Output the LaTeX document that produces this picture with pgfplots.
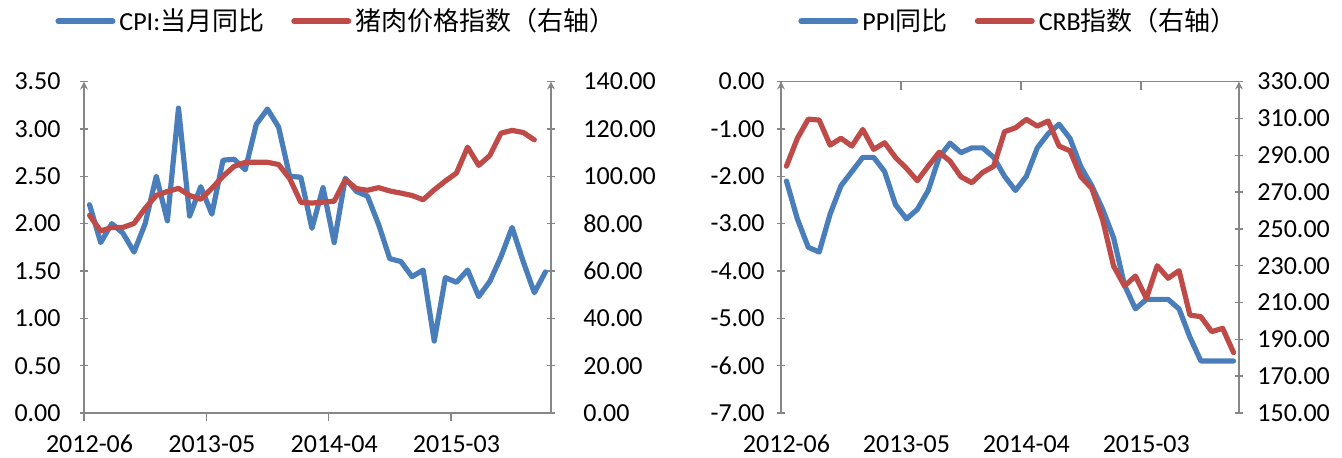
\documentclass[border=0pt]{standalone}
\usepackage{fontspec}
\setmainfont{Carlito}
\newfontfamily\cjk{Noto Sans CJK SC}
\usepackage{pgfplots}
\usepackage{pgfplotstable}
\pgfplotsset{compat=1.18}
\definecolor{sblue}{HTML}{4A7EBB}
\definecolor{sred}{HTML}{BE4B48}
\definecolor{axgray}{HTML}{868686}

\pgfplotstableread{
i v
0 2.20
1 1.80
2 2.00
3 1.90
4 1.70
5 2.00
6 2.50
7 2.03
8 3.22
9 2.08
10 2.39
11 2.10
12 2.67
13 2.68
14 2.57
15 3.05
16 3.21
17 3.02
18 2.50
19 2.49
20 1.95
21 2.38
22 1.80
23 2.48
24 2.34
25 2.29
26 1.99
27 1.63
28 1.60
29 1.44
30 1.51
31 0.76
32 1.43
33 1.38
34 1.51
35 1.23
36 1.39
37 1.65
38 1.96
39 1.60
40 1.27
41 1.49
}\cpitable

\pgfplotstableread{
i v
0 83.5
1 76.9
2 78.4
3 78.4
4 80.1
5 86.5
6 91.9
7 93.6
8 94.9
9 91.9
10 90.3
11 94.9
12 100.0
13 104.2
14 105.9
15 105.9
16 105.9
17 105.0
18 99.0
19 89.0
20 88.7
21 89.1
22 89.5
23 98.6
24 94.8
25 94.1
26 95.2
27 93.8
28 92.9
29 91.9
30 90.1
31 94.3
32 98.0
33 101.4
34 112.3
35 104.6
36 108.8
37 118.2
38 119.4
39 118.5
40 115.4
}\porktable

\pgfplotstableread{
i v
0 -2.1
1 -2.9
2 -3.5
3 -3.6
4 -2.8
5 -2.2
6 -1.9
7 -1.6
8 -1.6
9 -1.9
10 -2.6
11 -2.9
12 -2.7
13 -2.3
14 -1.6
15 -1.3
16 -1.5
17 -1.4
18 -1.4
19 -1.6
20 -2.0
21 -2.3
22 -2.0
23 -1.4
24 -1.1
25 -0.9
26 -1.2
27 -1.8
28 -2.2
29 -2.7
30 -3.3
31 -4.3
32 -4.8
33 -4.6
34 -4.6
35 -4.6
36 -4.8
37 -5.4
38 -5.9
39 -5.9
40 -5.9
41 -5.9
}\ppitable

\pgfplotstableread{
i v
0 284.1
1 299.2
2 309.6
3 309.1
4 295.5
5 299.2
6 295.0
7 304.0
8 293.2
9 296.8
10 288.8
11 282.9
12 276.2
13 284.1
14 291.6
15 286.8
16 278.3
17 275.1
18 280.7
19 284.0
20 302.8
21 304.9
22 309.5
23 305.8
24 308.6
25 295.0
26 292.4
27 278.3
28 272.0
29 254.8
30 229.8
31 219.0
32 224.4
33 212.3
34 230.0
35 223.2
36 227.3
37 203.2
38 202.3
39 194.2
40 196.0
41 182.8
}\crbtable

\pgfplotsset{
  common/.style={
    scale only axis, height=165.7pt,
    xmin=-0.5, xmax=41.5,
    tick align=outside, major tick length=4pt,
    every tick/.style={axgray, line width=0.75pt},
    axis line style={axgray, line width=0.75pt, -},
    every outer x axis line/.append style={-},
    every outer y axis line/.append style={-},
    ticklabel style={font=\fontsize{13}{15}\selectfont, text=black},
    /pgf/number format/fixed,
    /pgf/number format/fixed zerofill,
    /pgf/number format/precision=2,
    /pgf/number format/assume math mode=true,
    scaled y ticks=false,
    clip=false,
  },
  yleft/.style={axis y line=left, axis x line=none, xtick=\empty,
    yticklabel style={anchor=east, inner sep=0pt, xshift=#1}},
  yright/.style={axis y line=right, axis x line=none, xtick=\empty,
    yticklabel style={anchor=west, inner sep=0pt, xshift=#1}},
  ser/.style={line width=2.6pt, line join=round, line cap=round},
  leg/.style={
    legend style={draw=none, fill=none, inner sep=0pt, anchor=west,
      font=\fontsize{13}{15}\selectfont, legend columns=2,
      /tikz/every even column/.append style={column sep=11.5pt}},
    legend image code/.code={\draw[##1, line width=3pt, line cap=round] (0pt,0pt) -- (27pt,0pt);},
  },
}

\begin{document}
\begin{tikzpicture}
\useasboundingbox (0,0) rectangle (671pt,228.5pt);

% ---------------- left panel ----------------
\begin{axis}[common, yleft=-9.5pt, leg, width=233.5pt, at={(42pt,22pt)}, anchor=south west,
  ymin=0, ymax=3.5, ytick={0,0.5,1,1.5,2,2.5,3,3.5},
  legend style={at={(-0.062,1.182)}}]
\addplot[sblue, ser] table[x=i,y=v]{\cpitable};
\addlegendentry{CPI:{\cjk 当月同比}}
\addlegendimage{sred, ser}
\addlegendentry{{\cjk 猪肉价格指数（右轴）}}
\end{axis}
\begin{axis}[common, yright=14pt, width=233.5pt, at={(42pt,22pt)}, anchor=south west,
  ymin=0, ymax=140, ytick={0,20,40,60,80,100,120,140}]
\addplot[sred, ser] table[x=i,y=v]{\porktable};
\end{axis}
\begin{axis}[common, width=233.5pt, at={(42pt,22pt)}, anchor=south west,
  hide y axis, ymin=0, ymax=1,
  axis x line*=bottom, xtick pos=left, xticklabel pos=left,
  xtick={-0.5,10.5,21.5,32.5},
  xticklabels={2012-06,2013-05,2014-04,2015-03},
  xticklabel style={anchor=center, inner sep=0pt, xshift=2.78pt, yshift=-11.5pt}]
\end{axis}

% ---------------- right panel ----------------
\begin{axis}[common, yleft=-6pt, leg, width=229pt, at={(390.5pt,22pt)}, anchor=south west,
  ymin=-7, ymax=0, ytick={-7,-6,-5,-4,-3,-2,-1,0},
  legend style={at={(0.037,1.182)}}]
\addplot[sblue, ser] table[x=i,y=v]{\ppitable};
\addlegendentry{PPI{\cjk 同比}}
\addlegendimage{sred, ser}
\addlegendentry{CRB{\cjk 指数（右轴）}}
\end{axis}
\begin{axis}[common, yright=7pt, width=229pt, at={(390.5pt,22pt)}, anchor=south west,
  ymin=150, ymax=330, ytick={150,170,190,210,230,250,270,290,310,330}]
\addplot[sred, ser] table[x=i,y=v]{\crbtable};
\end{axis}
\begin{axis}[common, width=229pt, at={(390.5pt,22pt)}, anchor=south west,
  hide y axis, ymin=0, ymax=1, tick align=inside,
  axis x line*=top, xtick pos=right, xticklabel pos=left,
  xtick={-0.5,10.5,21.5,32.5},
  xticklabels={2012-06,2013-05,2014-04,2015-03},
  xticklabel style={anchor=center, inner sep=0pt, xshift=2.73pt, yshift=-181.2pt}]
\end{axis}
\end{tikzpicture}
\end{document}
